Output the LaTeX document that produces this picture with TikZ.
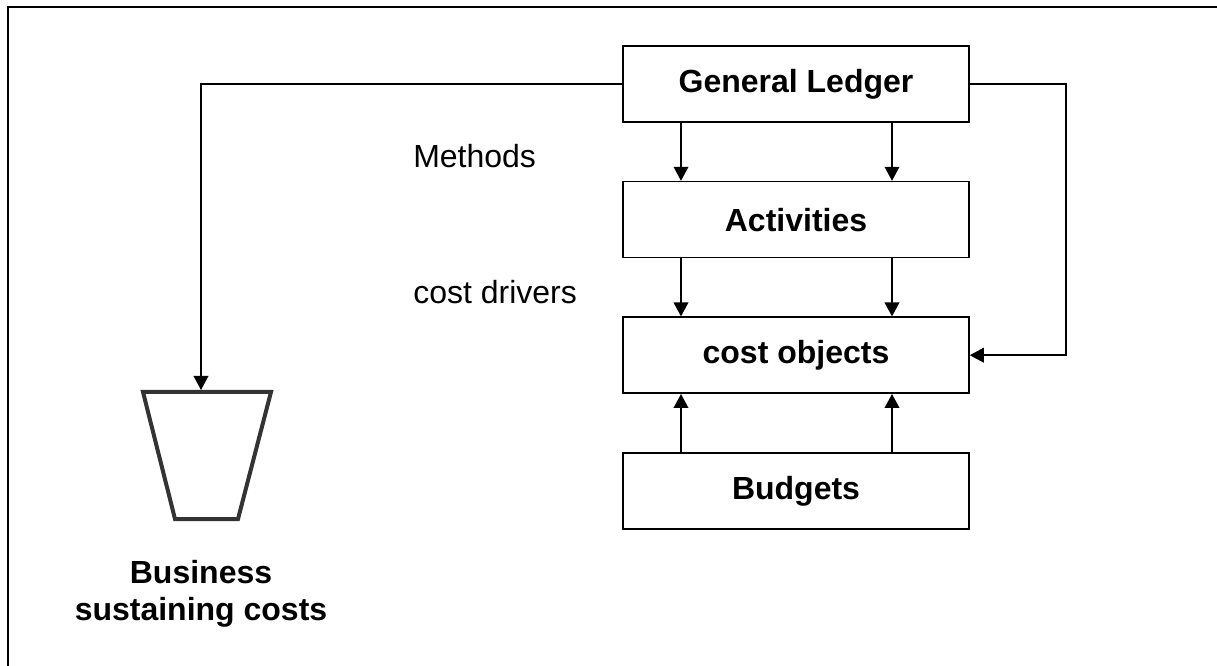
\documentclass[tikz,border=0pt]{standalone}
\usepackage{fontspec}
\setmainfont{Liberation Sans}
\usetikzlibrary{arrows.meta,positioning,calc}
\tikzset{
    box/.style={
        draw,
        line width=1.2pt,
        align=center,
        inner sep=0pt,
        minimum height=57pt,
        minimum width=259.5pt,
        font=\fontsize{24}{29}\selectfont\bfseries
    },
    note/.style={
        inner sep=0pt,
        anchor=base west,
        font=\fontsize{24}{29}\selectfont
    },
    flow/.style={-{Triangle[width=11pt,length=10.5pt]}, line width=1.2pt},
    bucket/.style={draw=black!80, line width=3pt, line join=miter},
    frame/.style={line width=1.5pt}
}

\begin{document}
\begin{tikzpicture}[x=0.75pt,y=-0.75pt,node distance=43.5pt]
    \useasboundingbox (0,0) rectangle (1217,666);
    \draw[frame] (8,680) -- (8,7) -- (1230,7);

    \node[box] (ledger) at (796,84) {General Ledger};
    \node[box, below=of ledger] (activities) {Activities};
    \node[box, below=of activities] (objects) {cost objects};
    \node[box, below=of objects] (budgets) {Budgets};

    \node[note] (methods) at (413,168) {Methods};
    \node[note] (drivers) at (413,304) {cost drivers};

    % business sustaining cost bucket
    \draw[bucket] (143,392) -- (271,392) -- (238,519) -- (175,519) -- cycle;
    \coordinate (cup) at (201,390);
    \node[align=center, inner sep=0pt, anchor=north,
          font=\fontsize{24}{27.75}\selectfont\bfseries] (sustain) at (201,560)
          {Business\\sustaining costs};

    \foreach \dx in {-86.25pt,72pt} {
        \draw[flow] ([xshift=\dx]ledger.south) -- ([xshift=\dx]activities.north);
        \draw[flow] ([xshift=\dx]activities.south) -- ([xshift=\dx]objects.north);
        \draw[flow] ([xshift=\dx]budgets.north) -- ([xshift=\dx]objects.south);
    }

    \coordinate (loop) at (1066,84);
    \draw[flow] (ledger.west) -| (cup);
    \draw[flow] (ledger.east) -- (loop) |- (objects.east);
\end{tikzpicture}
\end{document}
